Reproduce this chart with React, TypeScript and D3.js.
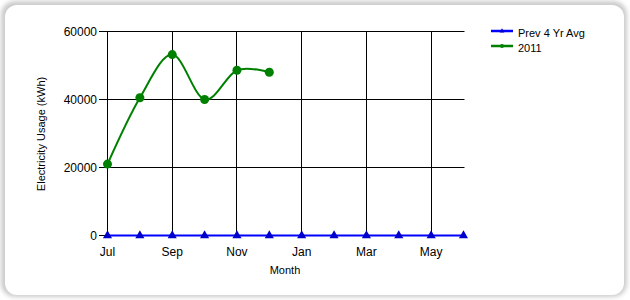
import React from 'react';
import * as d3 from 'd3';

const months = ['Jul', 'Aug', 'Sep', 'Oct', 'Nov', 'Dec', 'Jan', 'Feb', 'Mar', 'Apr', 'May', 'Jun'];
const prevAvg = [0, 0, 0, 0, 0, 0, 0, 0, 0, 0, 0, 0];
const usage2011 = [21000, 40500, 53200, 40000, 48600, 48000];
const yTicks = [0, 20000, 40000, 60000];
const seriesNames = ['Prev 4 Yr Avg', '2011'];

const W = 630, H = 300;
const FONT = '"Liberation Sans", Arial, sans-serif';

export default function App() {
  const x = d3.scaleLinear().domain([0, months.length - 1]).range([107.5, 463.5]);
  const y = d3.scaleLinear().domain([0, 60000]).range([235.5, 31.5]);
  const crisp = (v: number) => Math.round(v - 0.5) + 0.5;

  const spline = d3.line<number>()
    .x((_, i) => x(i))
    .y((d) => y(d))
    .curve(d3.curveCardinal.tension(0));
  const straight = d3.line<number>()
    .x((_, i) => x(i))
    .y((d) => y(d));
  const tri = d3.symbol().type(d3.symbolTriangle).size(36)();

  const xLabelIdx = months.map((_, i) => i).filter((i) => i % 2 === 0);

  return (
    <svg width={W} height={H} style={{ position: 'absolute', left: 0, top: 0 }} fontFamily={FONT}>
      <defs>
        <filter id="sh" x="-5%" y="-5%" width="110%" height="110%">
          <feGaussianBlur stdDeviation="2" />
        </filter>
      </defs>
      <rect x={0} y={0} width={W} height={H} fill="#ffffff" />
      <rect x={1} y={1} width={626} height={296} rx={14} fill="#cccccc" filter="url(#sh)" />
      <rect x={5} y={5} width={619} height={290} rx={12} fill="#ffffff" />

      {/* horizontal gridlines + y ticks */}
      {yTicks.map((t) => (
        <g key={t}>
          <line x1={99} x2={x(11) + 1} y1={crisp(y(t))} y2={crisp(y(t))} stroke="#000" strokeWidth={1} />
          <text x={97} y={y(t) + 4.5} fontSize={12} textAnchor="end" fill="#000">{t}</text>
        </g>
      ))}
      {/* vertical gridlines */}
      {xLabelIdx.map((i) => (
        <line key={i} x1={crisp(x(i))} x2={crisp(x(i))} y1={y(60000)} y2={y(0)} stroke="#000" strokeWidth={1} />
      ))}
      {/* x labels */}
      {xLabelIdx.map((i) => (
        <text key={i} x={x(i)} y={256} fontSize={12} textAnchor="middle" fill="#000">{months[i]}</text>
      ))}
      <text x={285} y={274} fontSize={11} textAnchor="middle" fill="#000">Month</text>
      <text transform={`translate(45,134) rotate(-90)`} fontSize={11} textAnchor="middle" fill="#000">
        Electricity Usage (kWh)
      </text>

      {/* Prev 4 yr avg */}
      <path d={straight(prevAvg) || ''} fill="none" stroke="#0000ff" strokeWidth={2} />
      {prevAvg.map((d, i) => (
        <path key={i} d={tri || ''} transform={`translate(${x(i)},${y(d)})`} fill="#0000cc" />
      ))}

      {/* 2011 */}
      <path d={spline(usage2011) || ''} fill="none" stroke="#008000" strokeWidth={2} />
      {usage2011.map((d, i) => (
        <circle key={i} cx={x(i)} cy={y(d)} r={4.5} fill="#008000" />
      ))}

      {/* legend */}
      {seriesNames.map((n, i) => {
        const ly = 31 + i * 15;
        const col = i === 0 ? '#0000ff' : '#008000';
        return (
          <g key={n}>
            <line x1={491} x2={513} y1={ly} y2={ly} stroke={col} strokeWidth={2.5} />
            {i === 0 ? (
              <path d={d3.symbol().type(d3.symbolTriangle).size(10)() || ''} transform={`translate(502,${ly})`} fill="#0000cc" />
            ) : (
              <circle cx={502} cy={ly} r={2} fill={col} />
            )}
            <text x={518} y={ly + 5.5} fontSize={11} fill="#000">{n}</text>
          </g>
        );
      })}
    </svg>
  );
}
